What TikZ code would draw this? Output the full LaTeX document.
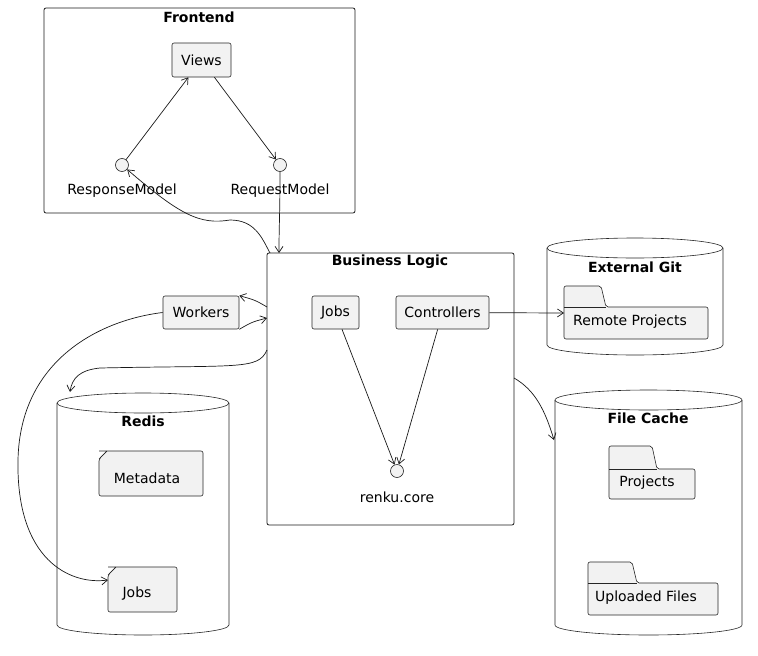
\documentclass[tikz,border=0pt]{standalone}
\usepackage{fontspec}
\setmainfont{DejaVu Sans}
\usetikzlibrary{arrows.meta}
\begin{document}
\begin{tikzpicture}[x=1pt,y=1pt,
  every node/.style={font=\fontsize{14}{16}\selectfont,text=black},
  ttl/.style={font=\fontsize{14}{16}\selectfont\bfseries},
  grp/.style={draw=black!90,line width=0.8pt,rounded corners=2pt},
  box/.style={draw=black!85,fill=black!5,line width=0.6pt,rounded corners=2pt},
  ifc/.style={draw=black!85,fill=black!5,circle,minimum size=13pt,inner sep=0pt,line width=0.6pt},
  arr/.style={-{Straight Barb[length=6pt,width=8pt]},line width=0.7pt,black!90}]
\useasboundingbox (0,0) rectangle (758,-656);
% Frontend
\draw[grp] (44,-8) rectangle (355,-213);
\node[ttl] (tfe) at (199,-17) {Frontend};
\node[box,minimum width=59pt,minimum height=34pt] (views) at (201.5,-60) {Views};
\node[ifc] (resp) at (122,-165) {};
\node (respl) at (122,-191) {ResponseModel};
\node[ifc] (req) at (280,-165) {};
\node (reql) at (280,-191) {RequestModel};
\draw[arr] (resp) -- (views);
\draw[arr] (views) -- (req);
% Business logic
\draw[grp] (267,-253) rectangle (514,-525);
\node[ttl] (tbl) at (390,-262) {Business Logic};
\node[box,minimum width=47pt,minimum height=33pt] (jobs) at (335.5,-312.5) {Jobs};
\node[box,minimum width=93pt,minimum height=33pt] (ctrl) at (442.5,-312.5) {Controllers};
\node[ifc] (core) at (397,-471) {};
\node (corel) at (397,-497) {renku.core};
\draw[arr] (jobs) -- (core);
\draw[arr] (ctrl) -- (core);
\coordinate (bltop) at (279,-253);
\draw[arr] (req) .. controls (280,-215) and (279,-225) .. (bltop);
\coordinate (bltl) at (270,-253);
\draw[arr] (bltl) .. controls (262,-238) and (255,-220) .. (230,-220) .. controls (200,-225) and (180,-215) .. (resp);
% Workers
\node[box,minimum width=76pt,minimum height=33pt] (work) at (201,-312.5) {Workers};
\coordinate (blw1) at (267,-307);
\coordinate (blw2) at (267,-318);
\draw[arr] (blw1) .. controls (255,-300) .. (work.north east);
\draw[arr] (work.south east) .. controls (252,-322) .. (blw2);
% Redis
\draw[box,fill=white,rounded corners=0pt] (57,-403) -- (57,-625) arc(180:360:86 and 10) -- (229,-403) arc(0:180:86 and 10) -- cycle;
\draw[box,fill=none,rounded corners=0pt] (57,-403) arc(180:360:86 and 10);
\node[ttl] (tredis) at (143,-421) {Redis};
\draw[box] (99,-451) -- (203,-451) -- (203,-496) -- (99,-496) -- (99,-459) -- (107,-451);
\draw[box,fill=none] (99,-459) -- (107,-451);
\node (meta) at (147,-478) {Metadata};
\draw[box] (108,-567) -- (177,-567) -- (177,-612) -- (108,-612) -- (108,-575) -- (116,-567);
\draw[box,fill=none] (108,-575) -- (116,-567);
\coordinate (rjobs) at (108,-580);
\node (rjobsl) at (137,-594) {Jobs};
\coordinate (bl3) at (267,-350);
\coordinate (redtop) at (70,-392);
\draw[arr] (bl3) .. controls (258,-370) and (240,-365) .. (100,-368) .. controls (80,-370) and (72,-378) .. (redtop);
\draw[arr] (work.west) .. controls (100,-320) and (20,-360) .. (18,-460) .. controls (16,-560) and (70,-585) .. (rjobs);
% External Git
\draw[box,fill=white,rounded corners=0pt] (547,-248) -- (547,-345) arc(180:360:88 and 10) -- (723,-248) arc(0:180:88 and 10) -- cycle;
\draw[box,fill=none,rounded corners=0pt] (547,-248) arc(180:360:88 and 10);
\node[ttl] (tgit) at (635,-267) {External Git};
\draw[box] (564,-286) -- (601,-286) -- (606,-307) -- (708,-307) -- (708,-339) -- (564,-339) -- cycle;
\draw[box,fill=none] (564,-307) -- (606,-307);
\node (rp) at (630,-322) {Remote Projects};
\coordinate (rpw) at (564,-313);
\draw[arr] (ctrl) -- (rpw);
% File Cache
\draw[box,fill=white,rounded corners=0pt] (555,-400) -- (555,-625) arc(180:360:93.5 and 10) -- (742,-400) arc(0:180:93.5 and 10) -- cycle;
\draw[box,fill=none,rounded corners=0pt] (555,-400) arc(180:360:93.5 and 10);
\node[ttl] (tfc) at (648,-418) {File Cache};
\draw[box] (609,-446) -- (652,-446) -- (657,-469) -- (695,-469) -- (695,-499) -- (609,-499) -- cycle;
\draw[box,fill=none] (609,-469) -- (657,-469);
\node (proj) at (647,-483) {Projects};
\draw[box] (588,-562) -- (632,-562) -- (637,-583) -- (718,-583) -- (718,-615) -- (588,-615) -- cycle;
\draw[box,fill=none] (588,-583) -- (637,-583);
\node (upl) at (646,-598) {Uploaded Files};
\coordinate (blr) at (514,-378);
\coordinate (fcl) at (554,-440);
\draw[arr] (blr) .. controls (535,-390) and (545,-410) .. (fcl);
\end{tikzpicture}
\end{document}
